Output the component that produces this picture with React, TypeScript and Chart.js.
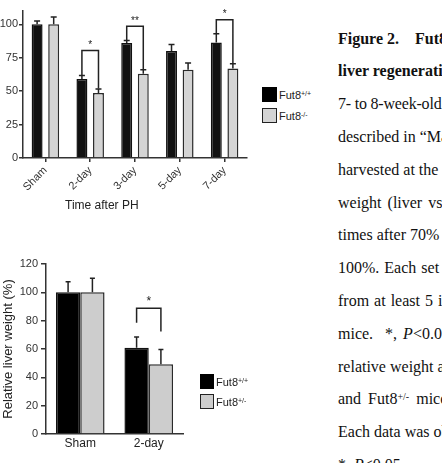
import React, { useEffect, useRef } from 'react';
import { Chart, registerables } from 'chart.js';
Chart.register(...registerables);

const FONT = '"Liberation Sans", Arial, Helvetica, sans-serif';
const SERIF = '"Liberation Serif", "Times New Roman", Times, serif';

// ---- Top chart data ----
const topCategories = ['Sham', '2-day', '3-day', '5-day', '7-day'];
const topWildType = [100, 59.2, 86, 80, 86.5];
const topWildTypeErr = [102.5, 61.7, 88, 85, 93];
const topKnockout = [100, 48.6, 63, 66, 67];
const topKnockoutErr = [105.5, 51.6, 66, 71, 70.5];
const topYTicks = [0, 25, 50, 75, 100];
const topBracketIndex = [1, 2, 4];
const topBracketTop = [80.5, 98.5, 103.5];
const topBracketLeft = [62, 88, 93];
const topBracketRight = [52, 66, 71];
const topBracketLabel = ['*', '**', '*'];

// ---- Bottom chart data ----
const bottomCategories = ['Sham', '2-day'];
const bottomWildType = [100, 60.8];
const bottomWildTypeErr = [107.5, 68.4];
const bottomHetero = [100, 49.3];
const bottomHeteroErr = [110, 59.6];
const bottomYTicks = [0, 20, 40, 60, 80, 100, 120];
const bottomBracketIndex = [1];
const bottomBracketTop = [88.8];
const bottomBracketLeft = [78.6];
const bottomBracketRight = [72.3];
const bottomBracketLabel = ['*'];

type AnnotCfg = {
  errors: number[][];
  cap: number;
  lineWidth: number;
  bIndex: number[];
  bTop: number[];
  bLeft: number[];
  bRight: number[];
  bLabel: string[];
  starFont: string;
  starGap: number;
};

function makeAnnot(cfg: AnnotCfg) {
  return {
    id: 'annot',
    afterDatasetsDraw(chart: any) {
      const ctx = chart.ctx;
      const y = chart.scales.y;
      ctx.save();
      ctx.strokeStyle = '#222';
      ctx.fillStyle = '#222';
      ctx.lineWidth = cfg.lineWidth;
      cfg.errors.forEach((errs, di) => {
        const meta = chart.getDatasetMeta(di);
        errs.forEach((v, i) => {
          const bar = meta.data[i];
          const yt = y.getPixelForValue(v);
          ctx.beginPath();
          ctx.moveTo(bar.x, bar.y);
          ctx.lineTo(bar.x, yt);
          ctx.moveTo(bar.x - cfg.cap / 2, yt);
          ctx.lineTo(bar.x + cfg.cap / 2, yt);
          ctx.stroke();
        });
      });
      ctx.font = cfg.starFont;
      ctx.textAlign = 'center';
      ctx.textBaseline = 'bottom';
      cfg.bIndex.forEach((ci, k) => {
        const x0 = chart.getDatasetMeta(0).data[ci].x;
        const x1 = chart.getDatasetMeta(1).data[ci].x;
        const yt = y.getPixelForValue(cfg.bTop[k]);
        const yl = y.getPixelForValue(cfg.bLeft[k]);
        const yr = y.getPixelForValue(cfg.bRight[k]);
        ctx.beginPath();
        ctx.moveTo(x0, yl);
        ctx.lineTo(x0, yt);
        ctx.lineTo(x1, yt);
        ctx.lineTo(x1, yr);
        ctx.stroke();
        ctx.fillText(cfg.bLabel[k], (x0 + x1) / 2, yt - cfg.starGap);
      });
      ctx.restore();
    },
  };
}

export default function App() {
  const topRef = useRef<HTMLCanvasElement | null>(null);
  const botRef = useRef<HTMLCanvasElement | null>(null);

  useEffect(() => {
    const axisColor = '#333';
    const top = new Chart(topRef.current as HTMLCanvasElement, {
      type: 'bar',
      data: {
        labels: topCategories,
        datasets: [
          {
            label: 'Fut8+/+',
            data: topWildType,
            backgroundColor: '#111',
            borderColor: '#111',
            borderWidth: 1.5,
            categoryPercentage: 0.74,
            barPercentage: 0.66,
          },
          {
            label: 'Fut8-/-',
            data: topKnockout,
            backgroundColor: '#d4d4d4',
            borderColor: '#2a2a2a',
            borderWidth: 1.5,
            categoryPercentage: 0.74,
            barPercentage: 0.66,
          },
        ],
      },
      options: {
        animation: false,
        responsive: false,
        maintainAspectRatio: false,
        layout: { padding: { top: 11, right: 13, left: 0, bottom: 0 } },
        plugins: { legend: { display: false }, tooltip: { enabled: false } },
        scales: {
          x: {
            grid: { display: true, drawOnChartArea: false, drawTicks: true, tickLength: 4, offset: false, color: axisColor, lineWidth: 1.5 },
            border: { display: true, color: axisColor, width: 1.5 },
            ticks: { minRotation: 45, maxRotation: 45, padding: 2, color: '#333', font: { size: 11, family: FONT } },
            afterFit: (s: any) => { s.height = 57; },
          },
          y: {
            min: 0,
            max: 110,
            grid: { display: true, drawOnChartArea: false, drawTicks: true, tickLength: 4, color: axisColor, lineWidth: 1.5 },
            border: { display: true, color: axisColor, width: 1.5 },
            ticks: { padding: 1, color: '#333', font: { size: 11, family: FONT } },
            afterBuildTicks: (s: any) => { s.ticks = topYTicks.map((v) => ({ value: v })); },
            afterFit: (s: any) => { s.width = 23; },
          },
        },
      } as any,
      plugins: [
        makeAnnot({
          errors: [topWildTypeErr, topKnockoutErr],
          cap: 6,
          lineWidth: 1.5,
          bIndex: topBracketIndex,
          bTop: topBracketTop,
          bLeft: topBracketLeft,
          bRight: topBracketRight,
          bLabel: topBracketLabel,
          starFont: `10px ${FONT}`,
          starGap: 0,
        }),
      ],
    });

    const bot = new Chart(botRef.current as HTMLCanvasElement, {
      type: 'bar',
      data: {
        labels: bottomCategories,
        datasets: [
          {
            label: 'Fut8+/+',
            data: bottomWildType,
            backgroundColor: '#000',
            borderColor: '#111',
            borderWidth: 1.5,
            categoryPercentage: 0.71,
            barPercentage: 1.0,
          },
          {
            label: 'Fut8+/-',
            data: bottomHetero,
            backgroundColor: '#cdcdcd',
            borderColor: '#2a2a2a',
            borderWidth: 1.5,
            categoryPercentage: 0.71,
            barPercentage: 1.0,
          },
        ],
      },
      options: {
        animation: false,
        responsive: false,
        maintainAspectRatio: false,
        layout: { padding: { top: 14, right: 12, left: 0, bottom: 0 } },
        plugins: { legend: { display: false }, tooltip: { enabled: false } },
        scales: {
          x: {
            grid: { display: true, drawOnChartArea: false, drawTicks: false, color: axisColor },
            border: { display: true, color: axisColor, width: 1.5 },
            ticks: { padding: 2, color: '#222', font: { size: 12, family: FONT } },
            afterFit: (s: any) => { s.height = 29; },
          },
          y: {
            min: 0,
            max: 120,
            grid: { display: true, drawOnChartArea: false, drawTicks: true, tickLength: 5, color: axisColor, lineWidth: 1.5 },
            border: { display: true, color: axisColor, width: 1.5 },
            ticks: { padding: 3, color: '#333', font: { size: 11, family: FONT } },
            afterBuildTicks: (s: any) => { s.ticks = bottomYTicks.map((v) => ({ value: v })); },
            title: { display: true, text: 'Relative liver weight (%)', color: '#222', font: { size: 13, family: FONT }, padding: { top: 1, bottom: 0 } },
            afterFit: (s: any) => { s.width = 46; },
          },
        },
      } as any,
      plugins: [
        makeAnnot({
          errors: [bottomWildTypeErr, bottomHeteroErr],
          cap: 5,
          lineWidth: 1.5,
          bIndex: bottomBracketIndex,
          bTop: bottomBracketTop,
          bLeft: bottomBracketLeft,
          bRight: bottomBracketRight,
          bLabel: bottomBracketLabel,
          starFont: `12px ${FONT}`,
          starGap: 1,
        }),
      ],
    });

    return () => {
      top.destroy();
      bot.destroy();
    };
  }, []);

  const abs = (left: number, top: number, extra: any = {}) => ({ position: 'absolute' as const, left, top, ...extra });
  const legendText = { fontFamily: FONT, fontSize: 11, color: '#222', whiteSpace: 'nowrap' as const, lineHeight: '14px' };
  const sup = { fontSize: 7, verticalAlign: 'top' as const, position: 'relative' as const, top: -1 };
  const lineTop = (n: number) => 30.5 + 32.8 * n;
  const cap = { fontFamily: SERIF, fontSize: 16, lineHeight: '16px', color: '#111', whiteSpace: 'pre' as const };

  return (
    <div style={{ position: 'fixed', left: 0, top: 0, width: 442, height: 463, overflow: 'hidden', background: '#fff' }}>
      <canvas ref={topRef} width={260} height={215} style={abs(0, 0, { display: 'block' })} />
      <div style={abs(65, 198, { width: 72, textAlign: 'center', fontFamily: FONT, fontSize: 12, color: '#222', whiteSpace: 'nowrap' })}>Time after PH</div>

      <div style={abs(262, 87, { width: 15, height: 15, background: '#000' })} />
      <div style={abs(262, 108, { width: 15, height: 15, background: '#d4d4d4', border: '1.5px solid #222', boxSizing: 'border-box' })} />
      <div style={abs(279, 88, legendText)}>Fut8<span style={sup}>+/+</span></div>
      <div style={abs(279, 109, legendText)}>Fut8<span style={sup}>-/-</span></div>

      <canvas ref={botRef} width={195} height={213} style={abs(0, 250, { display: 'block' })} />

      <div style={abs(200, 374, { width: 14, height: 15, background: '#000' })} />
      <div style={abs(200, 394, { width: 14, height: 15, background: '#cdcdcd', border: '1.5px solid #222', boxSizing: 'border-box' })} />
      <div style={abs(216, 375, legendText)}>Fut8<span style={sup}>+/+</span></div>
      <div style={abs(216, 395, legendText)}>Fut8<span style={sup}>+/-</span></div>

      <div style={abs(338, lineTop(0), { ...cap, fontWeight: 'bold' })}>{'Figure 2.    Fut8 deficiency'}</div>
      <div style={abs(338, lineTop(1), { ...cap, fontWeight: 'bold' })}>{'liver regeneration'}</div>
      <div style={abs(338, lineTop(2), { ...cap, letterSpacing: -0.2 })}>{'7- to 8-week-old'}</div>
      <div style={abs(338, lineTop(3), cap)}>{'described in \u201cMaterials'}</div>
      <div style={abs(338, lineTop(4), cap)}>{'harvested at the'}</div>
      <div style={abs(338, lineTop(5), { ...cap, wordSpacing: 2 })}>{'weight (liver vs'}</div>
      <div style={abs(338, lineTop(6), cap)}>{'times after 70%'}</div>
      <div style={abs(338, lineTop(7), { ...cap, wordSpacing: 1 })}>{'100%. Each set of'}</div>
      <div style={abs(338, lineTop(8), { ...cap, wordSpacing: 1 })}>{'from at least 5 individual'}</div>
      <div style={abs(338, lineTop(9), { ...cap, wordSpacing: 2 })}>{'mice.  *, '}<i>P</i>{'<0.05'}</div>
      <div style={abs(338, lineTop(10), cap)}>{'relative weight at'}</div>
      <div style={abs(338, lineTop(11), { ...cap, wordSpacing: 3 })}>{'and Fut8'}<span style={{ fontSize: 10, verticalAlign: 'top', position: 'relative', top: -2 }}>{'+/-'}</span>{' mice'}</div>
      <div style={abs(338, lineTop(12), cap)}>{'Each data was obtained'}</div>
      <div style={abs(338, lineTop(13), cap)}>{'*, '}<i>P</i>{'<0.05'}</div>
    </div>
  );
}
